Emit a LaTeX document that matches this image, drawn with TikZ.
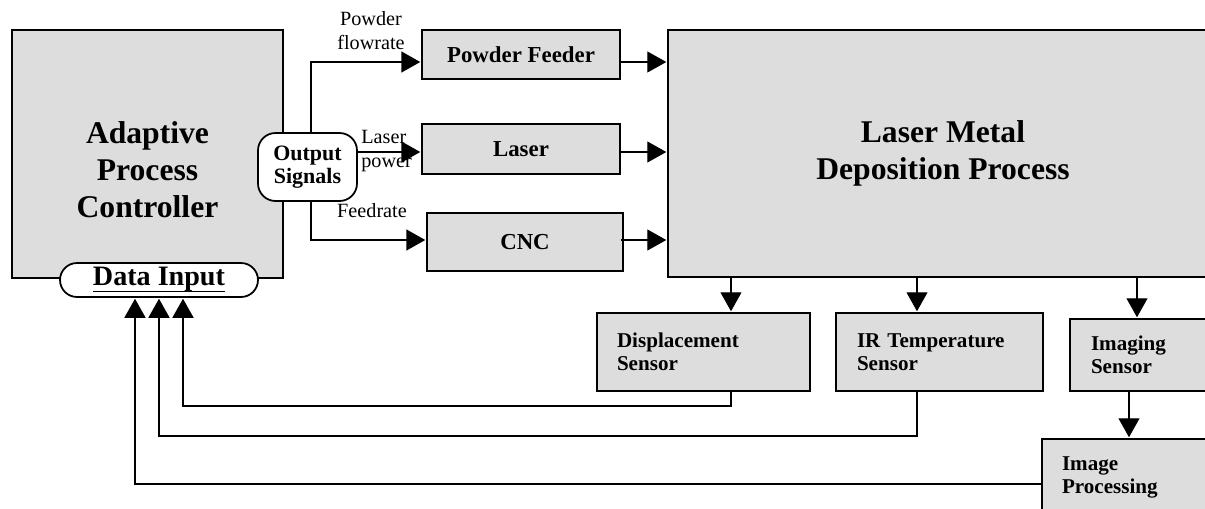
\documentclass[tikz,border=0pt]{standalone}
\usepackage{fontspec}
\setmainfont{Liberation Serif}
\usetikzlibrary{arrows.meta,positioning}
\definecolor{boxgray}{RGB}{221,221,221}
\newcommand{\thickul}[1]{\setbox0\hbox{#1}\rlap{\vrule width\wd0 height -2.6pt depth 3.7pt}\box0}

\tikzset{
  blk/.style={draw,line width=1pt,fill=boxgray,inner sep=0pt,
    font=\bfseries\fontsize{13}{15}\selectfont},
  bigtxt/.style={align=center,inner sep=0pt,font=\bfseries\fontsize{18}{21}\selectfont},
  sensor/.style={blk,align=left,inner xsep=0.4cm,
    font=\bfseries\fontsize{12}{13}\selectfont},
  pill/.style={draw,line width=1pt,fill=white,inner sep=0pt},
  sig/.style={inner sep=0pt,font=\fontsize{11.5}{13.5}\selectfont},
  lite/.style={line width=0.6pt},
  heavy/.style={line width=0.9pt}
}

\begin{document}
\begin{tikzpicture}[x=0.02cm,y=-0.02cm,>={Triangle[length=0.38cm,width=0.42cm]},shorten >=0.5pt]
\clip (0,0) rectangle (1205,508);

% controller
\node[blk,minimum width=5.42cm,minimum height=4.96cm] (apc) at (147.5,154) {};
\node[bigtxt] (apctxt) at (147.5,170) {Adaptive\\Process\\Controller};
\node[pill,minimum width=3.96cm,minimum height=0.68cm,rounded corners=0.34cm,
  font=\bfseries\fontsize{16}{18}\selectfont] (din) at (159,280) {\thickul{Data Input}};
\node[pill,minimum width=1.98cm,minimum height=1.36cm,rounded corners=0.35cm,align=center,
  font=\bfseries\fontsize{12.5}{13}\selectfont] (os) at (307.5,167) {Output\\Signals};

% actuators
\node[blk,minimum width=3.96cm,minimum height=0.98cm] (pf)  at (521,54.5) {Powder Feeder};
\node[blk,minimum width=3.96cm,minimum height=1cm]    (las) at (521,149)  {Laser};
\node[blk,minimum width=3.92cm,minimum height=1.16cm] (cnc) at (525,242)  {CNC};

% process
\node[blk,minimum width=11cm,minimum height=4.94cm,align=center,
  font=\bfseries\fontsize{18}{21}\selectfont] (lmd) at (943,153.5) {Laser Metal\\Deposition Process};

% sensors
\node[sensor,text width=3.46cm,minimum height=1.56cm] (ds)  at (703.5,352) {Displacement\\Sensor};
\node[sensor,text width=3.3cm,inner xsep=0.42cm,minimum height=1.56cm] (irs) at (939.5,352) {IR Temperature\\Sensor};
\node[sensor,text width=1.96cm,inner xsep=0.42cm,minimum height=1.44cm] (ims) at (1140,355) {Imaging\\Sensor};
\node[sensor,text width=2.68cm,minimum height=1.52cm] (imp) at (1129,477) {Image\\Processing};

% signal names
\node[sig,align=center,anchor=south] (lpf)  at (371,50)  {Powder\\flowrate};
\node[sig,align=left,anchor=south west] (llas) at (361,172) {Laser\\power};
\node[sig,anchor=base] (lcnc) at (372,217) {Feedrate};

\coordinate (o1) at (311,0);
\coordinate (p1) at ([yshift=-0.15cm]pf.east);
\coordinate (p2) at ([yshift=-0.06cm]las.east);
\coordinate (p3) at ([yshift=0.04cm]cnc.east);
\coordinate (k1) at (731,406);
\coordinate (k2) at (917,436);
\coordinate (k3) at (1137,0);
\coordinate (k4) at (1129,0);
\coordinate (a1) at (183,0);
\coordinate (a2) at (159,0);
\coordinate (a3) at (135,0);

\path[->,heavy] (os.north -| o1) edge[to path={|- (\tikztotarget)}] ([yshift=-0.15cm]pf.west)
  (os.east |- p2) edge ([yshift=-0.06cm]las.west)
  (os.south -| o1) edge[to path={|- (\tikztotarget)}] ([yshift=0.04cm]cnc.west);

\path[->,lite] (p1) edge (p1 -| lmd.west)
  (p2) edge (p2 -| lmd.west)
  ([xshift=-0.06cm]p3) edge (p3 -| lmd.west);

\path[->,lite] (lmd.south -| k1) edge (ds.north -| k1)
  (lmd.south -| k2) edge (irs.north -| k2)
  (lmd.south -| k3) edge (ims.north -| k3)
  (ims.south -| k4) edge (imp.north -| k4);

% feedback to the controller
\draw[->,heavy] (ds.south -| k1) -- (k1) -| (din.south -| a1);
\draw[->,heavy] (irs.south -| k2) -- (k2) -| (din.south -| a2);
\draw[->,heavy] ([yshift=-0.14cm]imp.west) -| (din.south -| a3);
\end{tikzpicture}
\end{document}
